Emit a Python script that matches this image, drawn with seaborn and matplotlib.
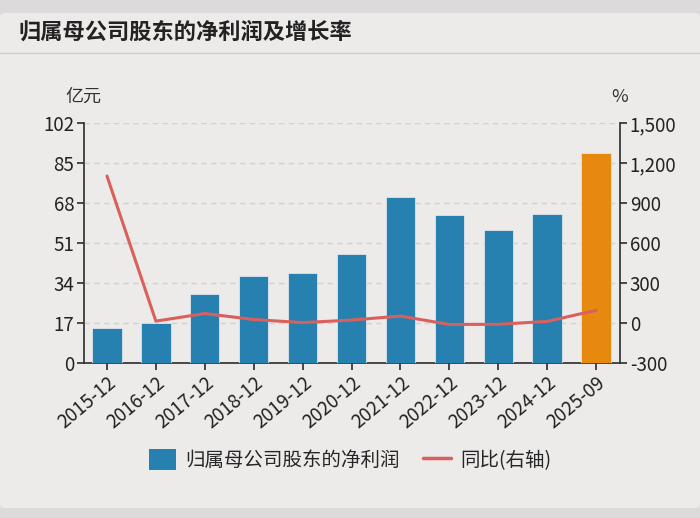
import numpy as np
import pandas as pd
import seaborn as sns
import matplotlib.pyplot as plt
from matplotlib.patches import Patch, FancyBboxPatch
from matplotlib.lines import Line2D
from matplotlib.ticker import FuncFormatter

periods = ['2015-12', '2016-12', '2017-12', '2018-12', '2019-12', '2020-12',
           '2021-12', '2022-12', '2023-12', '2024-12', '2025-09']
profit = [15.0, 17.1, 29.3, 37.0, 38.1, 46.3, 70.5, 62.9, 56.5, 63.3, 89.4]
yoy = [1102, 14, 71, 26, 3, 22, 52, -11, -10, 12, 95]
bar_colors = ['#2681b0'] * 10 + ['#e8890f']

sns.set_theme(style='white')
plt.rcParams['font.family'] = ['Noto Sans CJK SC', 'DejaVu Sans']

fig = plt.figure(figsize=(7, 5.18), dpi=100)
fig.patch.set_facecolor('#dddadb')
card = FancyBboxPatch((0.0, 10 / 518), 1.0, 495 / 518, boxstyle='round,pad=0,rounding_size=0.008',
                      transform=fig.transFigure, facecolor='#edeaea', edgecolor='none', zorder=-10)
fig.patches.append(card)
fig.add_artist(Line2D([0, 1], [1 - 53 / 518] * 2, transform=fig.transFigure, color='#cfcccc', lw=1,
                      zorder=-5))
fig.text(18 / 700, 1 - 32 / 518, '归属母公司股东的净利润及增长率', fontsize=16, fontweight='bold',
         va='center', ha='left', color='#222222')

ax = fig.add_axes([84 / 700, 1 - 363 / 518, 536 / 700, 240 / 518])
ax.set_facecolor('none')
df = pd.DataFrame({'period': periods, 'profit': profit})
sns.barplot(data=df, x='period', y='profit', hue='period', palette=bar_colors, legend=False,
            width=0.6, ax=ax, zorder=3, saturation=1, edgecolor='#dfe6ea', linewidth=0.6)
ax.set_ylim(0, 102)
ax.set_yticks(np.arange(0, 103, 17))
ax.set_xlim(-0.47, 10.49)
ax.set_xlabel('')
ax.set_ylabel('')
ax.yaxis.grid(True, linestyle=(0, (4, 3)), color='#d2d0d0', lw=1, zorder=0)
ax.set_axisbelow(True)
for s in ['top', 'right']:
    ax.spines[s].set_visible(False)
for s in ['left', 'bottom']:
    ax.spines[s].set_color('#333333')
ax.tick_params(axis='both', direction='out', length=5, color='#333333', labelsize=13.5, labelcolor='#222222',
               left=True, bottom=True, pad=2)
plt.setp(ax.get_xticklabels(), rotation=40, ha='right', rotation_mode='anchor')

ax2 = ax.twinx()
sns.lineplot(x=np.arange(len(periods)), y=yoy, ax=ax2, color='#d9605c', lw=2.2, zorder=4)
ax2.set_ylim(-300, 1500)
ax2.set_yticks(np.arange(-300, 1501, 300))
ax2.yaxis.set_major_formatter(FuncFormatter(lambda v, p: f'{int(v):,}'))
for s in ['top', 'left', 'bottom']:
    ax2.spines[s].set_visible(False)
ax2.spines['right'].set_color('#333333')
ax2.tick_params(axis='y', direction='out', length=5, color='#333333', labelsize=13.5, labelcolor='#222222',
                right=True, pad=2)
ax2.set_ylabel('')

fig.text(83 / 700, 1 - 97 / 518, '亿元', fontsize=13, ha='center', va='center', color='#333333')
fig.text(620 / 700, 1 - 97 / 518, '%', fontsize=13, ha='center', va='center', color='#333333')

handles = [FancyBboxPatch((0, 0), 1, 1, boxstyle='round,pad=0,rounding_size=3', facecolor='#2681b0',
                          edgecolor='none'),
           Line2D([0], [0], color='#d9605c', lw=2.5)]
fig.legend(handles, ['归属母公司股东的净利润', '同比(右轴)'], loc='center', bbox_to_anchor=(0.5, 1 - 460 / 518),
           ncol=2, frameon=False, fontsize=14, handlelength=1.4, handleheight=1.3, columnspacing=1.2,
           handletextpad=0.5)

fig.savefig('out.png', dpi=100, facecolor=fig.get_facecolor())
